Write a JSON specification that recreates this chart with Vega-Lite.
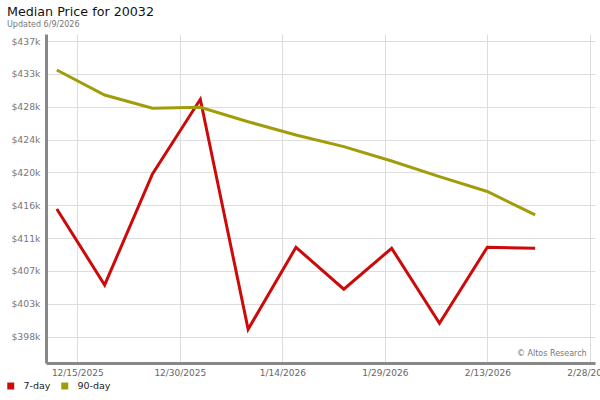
{
  "$schema": "https://vega.github.io/schema/vega-lite/v6.json",
  "width": 549,
  "height": 329,
  "autosize": "none",
  "padding": {"left": 46, "top": 34, "right": 5, "bottom": 37},
  "background": "white",
  "config": {"font": "DejaVu Sans", "view": {"stroke": null}},
  "title": {
    "text": "Median Price for 20032",
    "subtitle": "Updated 6/9/2026",
    "anchor": "start",
    "frame": "group",
    "dx": -39,
    "offset": 5,
    "fontSize": 12.7,
    "fontWeight": "normal",
    "color": "#111111",
    "subtitleFontSize": 8,
    "subtitleColor": "#777777",
    "subtitlePadding": 2
  },
  "datasets": {
    "prices": [
      {"date": "2025-12-12", "series": "7-day", "price": 415540},
      {"date": "2025-12-19", "series": "7-day", "price": 405640},
      {"date": "2025-12-26", "series": "7-day", "price": 420100},
      {"date": "2026-01-02", "series": "7-day", "price": 429830},
      {"date": "2026-01-09", "series": "7-day", "price": 399860},
      {"date": "2026-01-16", "series": "7-day", "price": 410550},
      {"date": "2026-01-23", "series": "7-day", "price": 405080},
      {"date": "2026-01-30", "series": "7-day", "price": 410420},
      {"date": "2026-02-06", "series": "7-day", "price": 400650},
      {"date": "2026-02-13", "series": "7-day", "price": 410550},
      {"date": "2026-02-20", "series": "7-day", "price": 410420},
      {"date": "2025-12-12", "series": "90-day", "price": 433650},
      {"date": "2025-12-19", "series": "90-day", "price": 430390},
      {"date": "2025-12-26", "series": "90-day", "price": 428660},
      {"date": "2026-01-02", "series": "90-day", "price": 428790},
      {"date": "2026-01-09", "series": "90-day", "price": 426910},
      {"date": "2026-01-16", "series": "90-day", "price": 425180},
      {"date": "2026-01-23", "series": "90-day", "price": 423660},
      {"date": "2026-01-30", "series": "90-day", "price": 421790},
      {"date": "2026-02-06", "series": "90-day", "price": 419750},
      {"date": "2026-02-13", "series": "90-day", "price": 417820},
      {"date": "2026-02-20", "series": "90-day", "price": 414760}
    ],
    "notes": [
      {"date": "2026-02-27T13:00:00Z", "price": 396650, "label": "© Altos Research"}
    ]
  },
  "encoding": {
    "x": {
      "field": "date",
      "type": "temporal",
      "scale": {
        "type": "utc",
        "domain": [
          {"year": 2025, "month": 12, "date": 10, "hours": 10, "utc": true},
          {"year": 2026, "month": 2, "date": 28, "hours": 18, "minutes": 15, "utc": true}
        ]
      },
      "axis": {
        "title": null,
        "values": [
          {"year": 2025, "month": 12, "date": 15, "utc": true},
          {"year": 2025, "month": 12, "date": 30, "utc": true},
          {"year": 2026, "month": 1, "date": 14, "utc": true},
          {"year": 2026, "month": 1, "date": 29, "utc": true},
          {"year": 2026, "month": 2, "date": 13, "utc": true},
          {"year": 2026, "month": 2, "date": 28, "utc": true}
        ],
        "labelExpr": "utcFormat(datum.value, '%-m/%-d/%Y')",
        "ticks": false,
        "labelPadding": 5,
        "labelFontSize": 9,
        "labelColor": "#666666",
        "labelOverlap": false,
        "labelBound": false,
        "labelFlush": false,
        "gridColor": "#dddddd",
        "gridWidth": 1,
        "domainColor": "#888888",
        "domainWidth": 3
      }
    },
    "y": {
      "field": "price",
      "type": "quantitative",
      "scale": {"domain": [395470, 438340], "nice": false, "zero": false},
      "axis": {
        "title": null,
        "values": [398900, 403180, 407460, 411740, 416020, 420300, 424580, 428860, 433140, 437420],
        "labelExpr": "'$' + floor(datum.value / 1000) + 'k'",
        "labelOverlap": false,
        "ticks": false,
        "labelPadding": 6,
        "labelFontSize": 9.3,
        "labelColor": "#777777",
        "gridColor": "#dddddd",
        "gridWidth": 1,
        "domainColor": "#888888",
        "domainWidth": 3
      }
    }
  },
  "layer": [
    {
      "data": {"name": "prices"},
      "mark": {"type": "line", "strokeWidth": 3},
      "encoding": {
        "color": {
          "field": "series",
          "type": "nominal",
          "scale": {"domain": ["7-day", "90-day"], "range": ["#cc0a0a", "#a09c0a"]},
          "legend": {
            "title": null,
            "orient": "none",
            "direction": "horizontal",
            "legendX": -40,
            "legendY": 347,
            "symbolType": "square",
            "symbolSize": 12,
            "symbolStrokeWidth": 3.5,
            "labelFontSize": 9.5,
            "labelColor": "#222222",
            "columnPadding": 5,
            "labelOffset": 8
          }
        }
      }
    },
    {
      "data": {"name": "notes"},
      "mark": {"type": "text", "align": "right", "baseline": "middle", "fontSize": 8, "color": "#777777"},
      "encoding": {
        "text": {"field": "label"}
      }
    }
  ]
}
